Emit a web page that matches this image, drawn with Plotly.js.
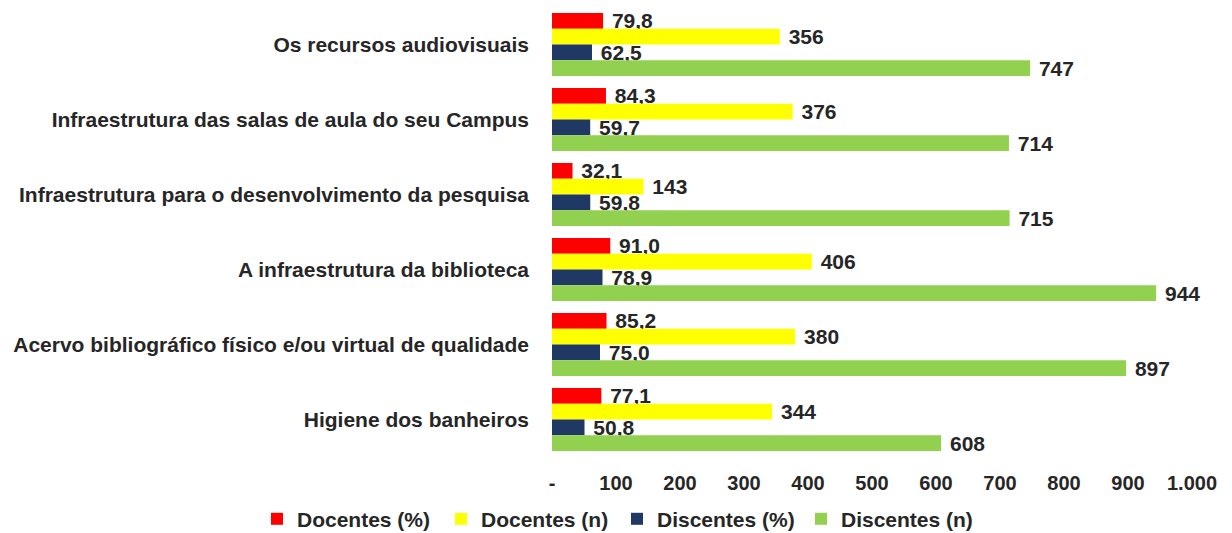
<!DOCTYPE html>
<html>
<head>
<meta charset="utf-8">
<script src="https://cdn.plot.ly/plotly-3.0.1.min.js"></script>
<style>html,body{margin:0;padding:0;background:#fff;}#chart{width:1232px;height:533px;}</style>
</head>
<body>
<div id="chart"></div>
<script>
const categories = [
  "Os recursos audiovisuais",
  "Infraestrutura das salas de aula do seu Campus",
  "Infraestrutura para o desenvolvimento da pesquisa",
  "A infraestrutura da biblioteca",
  "Acervo bibliográfico físico e/ou virtual de qualidade",
  "Higiene dos banheiros"
];
const docentesPct = [79.8, 84.3, 32.1, 91.0, 85.2, 77.1];
const docentesN   = [356, 376, 143, 406, 380, 344];
const discentesPct = [62.5, 59.7, 59.8, 78.9, 75.0, 50.8];
const discentesN   = [747, 714, 715, 944, 897, 608];
const seriesNames = ["Docentes (%)", "Docentes (n)", "Discentes (%)", "Discentes (n)"];
const seriesColors = ["#FF0000", "#FFFF00", "#1F3864", "#92D050"];
const tickVals = [0, 100, 200, 300, 400, 500, 600, 700, 800, 900, 1000];
const tickText = ["-", "100", "200", "300", "400", "500", "600", "700", "800", "900", "1.000"];

const FONT = "Liberation Sans, Arial, sans-serif";
const TXT = "#262626";
const fmtPct = v => "\u00A0" + v.toFixed(1).replace(".", ",");
const fmtInt = v => "\u00A0" + String(v);

const seriesData = [docentesPct, docentesN, discentesPct, discentesN];
const fmts = [fmtPct, fmtInt, fmtPct, fmtInt];
const legendIds = ["legend", "legend2", "legend3", "legend4"];
const legendLeftPx = [257, 441, 617, 801];

const traces = seriesData.map((vals, i) => ({
  type: "bar",
  orientation: "h",
  name: seriesNames[i],
  legend: legendIds[i],
  y: categories,
  x: vals,
  marker: {color: seriesColors[i], line: {width: 0}},
  text: vals.map(fmts[i]),
  textposition: "outside",
  constraintext: "none",
  cliponaxis: false,
  textfont: {family: FONT, size: 21, color: TXT, weight: "bold"},
  hoverinfo: "skip"
}));

const W = 1232, H = 533;
const layout = {
  width: W,
  height: H,
  margin: {l: 552, r: 40, t: 7, b: 76, pad: 0},
  paper_bgcolor: "#ffffff",
  plot_bgcolor: "#ffffff",
  barmode: "group",
  bargap: 0.16,
  bargroupgap: 0,
  showlegend: true,
  xaxis: {
    range: [0, 1000],
    tickvals: tickVals,
    ticktext: tickText,
    showgrid: false,
    zeroline: false,
    showline: false,
    ticks: "",
    ticklabelstandoff: 12,
    tickfont: {family: FONT, size: 20, color: TXT, weight: "bold"},
    fixedrange: true
  },
  yaxis: {
    type: "category",
    autorange: "reversed",
    showgrid: false,
    zeroline: false,
    showline: false,
    ticks: "",
    ticklabelstandoff: 22,
    tickfont: {family: FONT, size: 21, color: TXT, weight: "bold"},
    fixedrange: true
  },
  hovermode: false
};

legendIds.forEach((id, i) => {
  layout[id] = {
    orientation: "h",
    xref: "container", yref: "container",
    x: legendLeftPx[i] / W, xanchor: "left",
    y: 0.026, yanchor: "middle",
    bgcolor: "rgba(0,0,0,0)",
    font: {family: FONT, size: 21, color: TXT, weight: "bold"},
    itemclick: false, itemdoubleclick: false
  };
});

Plotly.newPlot("chart", traces, layout, {displayModeBar: false, staticPlot: true});
</script>
</body>
</html>
